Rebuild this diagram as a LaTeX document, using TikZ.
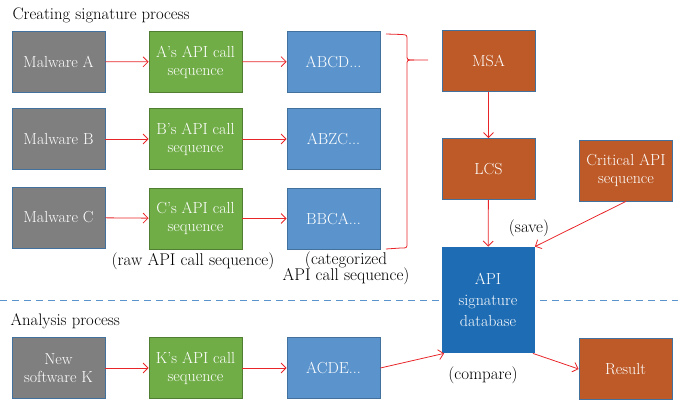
\documentclass[tikz,border=0pt]{standalone}
\usetikzlibrary{arrows.meta}

\definecolor{boxgray}{HTML}{7F7F7F}
\definecolor{boxgreen}{HTML}{70AD47}
\definecolor{boxblue}{HTML}{5B94CC}
\definecolor{boxorange}{HTML}{BD5A27}
\definecolor{dbblue}{HTML}{1E6CB3}
\definecolor{edgeblue}{HTML}{41719C}
\definecolor{edgegreen}{HTML}{507E32}
\definecolor{arrowred}{HTML}{E8262A}

\tikzset{
    box/.style = {draw = edgeblue, line width = 0.8pt, text = white, align = center,
                  minimum width = 93pt, minimum height = 61pt, inner sep = 1pt,
                  font = \fontsize{16}{18}\selectfont},
    raw/.style = {box, fill = boxgray},
    rawseq/.style = {box, fill = boxgreen, draw = edgegreen},
    catseq/.style = {box, fill = boxblue},
    stage/.style = {box, fill = boxorange},
    flow/.style = {draw = arrowred, line width = 0.8pt, -{Straight Barb[length=5pt,width=10pt]}},
    note/.style = {align = center, font = \fontsize{17}{17}\selectfont}
}

\begin{document}
\begin{tikzpicture}[x = 1pt, y = -1pt]
    \useasboundingbox (0,0) rectangle (678,411);

    % separator between the two processes
    \draw[boxblue, line width = 0.8pt, dash pattern = on 7pt off 5pt] (0,300) -- (678,300);

    \node[anchor = west, font = \fontsize{16.7}{18}\selectfont] (titleA) at (9,15) {Creating signature process};
    \node[anchor = west, font = \fontsize{16.7}{18}\selectfont] (titleB) at (7,321) {Analysis process};

    % malware samples
    \node[raw] (malA) at (58.5,61.5) {Malware A};
    \node[raw] (malB) at (58.5,139) {Malware B};
    \node[raw] (malC) at (58.5,217.5) {Malware C};
    \node[raw] (newK) at (58.5,368) {New\\software K};

    % raw API call sequences
    \node[rawseq] (seqA) at (195.5,62) {A's API call\\sequence};
    \node[rawseq] (seqB) at (195.5,139) {B's API call\\sequence};
    \node[rawseq] (seqC) at (195.5,218.5) {C's API call\\sequence};
    \node[rawseq] (seqK) at (195.5,368) {K's API call\\sequence};

    % categorized sequences
    \node[catseq] (catA) at (333.5,61.5) {ABCD...};
    \node[catseq] (catB) at (333.5,139) {ABZC...};
    \node[catseq] (catC) at (333.5,218.5) {BBCA...};
    \node[catseq] (catK) at (333.5,368) {ACDE...};

    \node[note] (rawnote) at (193,261) {(raw API call sequence)};
    \node[note] (catnote) at (346,268) {(categorized\\[-1pt]API call sequence)};

    \node[stage] (msa) at (488.5,61) {MSA};
    \node[stage] (lcs) at (488.5,169) {LCS};
    \node[stage] (crit) at (626,170.5) {Critical API\\sequence};
    \node[box, fill = dbblue, draw = none, minimum height = 106pt,
          font = \fontsize{16}{21}\selectfont] (db) at (488,300) {API\\signature\\database};
    \node[stage] (result) at (625.5,369) {Result};

    \node[note] (save) at (529,228) {(save)};
    \node[note] (compare) at (483,375) {(compare)};

    \foreach \row in {A,B,C} {
        \draw[flow] (mal\row) -- (seq\row);
        \draw[flow] (seq\row) -- (cat\row);
    }
    \draw[flow] (newK) -- (seqK);
    \draw[flow] (seqK) -- (catK);

    % brace gathering the categorized sequences
    \draw[arrowred, line width = 0.8pt]
        (386,34) -- (402,34.5) .. controls (407,35) .. (407,40) -- (407,55)
        .. controls (407,60) .. (414,60) -- (428,60);
    \draw[arrowred, line width = 0.8pt]
        (414,60) .. controls (407,60) .. (407,65) -- (407,243)
        .. controls (407,248) .. (401,248) -- (386,249);

    \draw[flow] (msa) -- (lcs);
    \draw[flow] (lcs) -- (db);
    \draw[flow] (crit.south) -- (db.north east);
    \draw[flow] (catK.east) -- ([xshift = 3pt]db.south west);
    \draw[flow] ([xshift = -2pt]db.south east) -- (result.west);
\end{tikzpicture}
\end{document}
